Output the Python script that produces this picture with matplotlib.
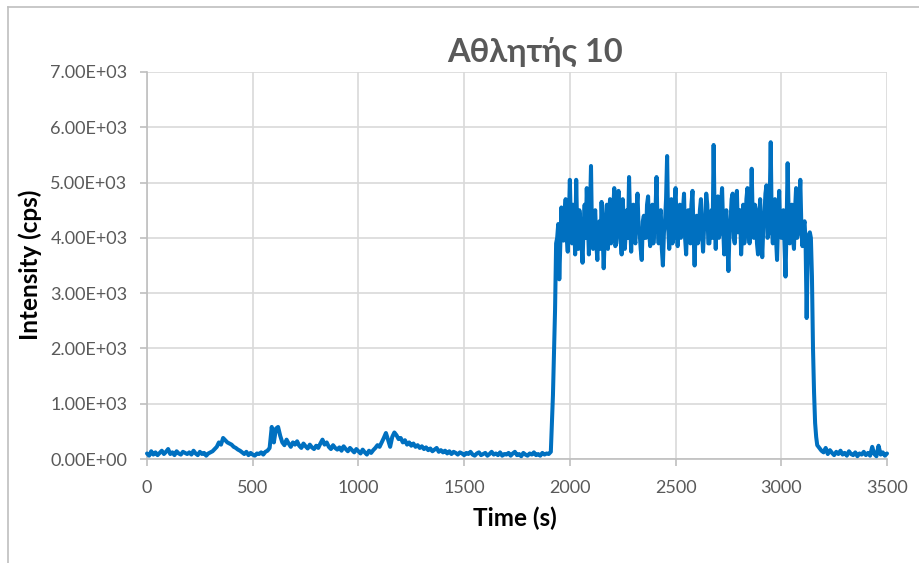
import numpy as np
import matplotlib
matplotlib.use("Agg")
import matplotlib.pyplot as plt
from matplotlib.lines import Line2D
from matplotlib.ticker import FuncFormatter, MultipleLocator

plt.rcParams['font.family'] = ['Lato', 'DejaVu Sans']

# Sampling times (s): every 10 s on the background, every 5 s across the signal plateau
time_s = np.concatenate([
    np.arange(0, 1921, 10),
    np.arange(1930, 3166, 5),
    np.arange(3170, 3501, 10),
])

# Background before the signal, 0-1920 s (10 s steps)
intensity_pre = [
    100, 60, 140, 80, 120, 70, 110, 150, 90, 130,
    180, 90, 120, 70, 140, 100, 80, 130, 110, 90,
    120, 80, 150, 100, 70, 130, 90, 110, 60, 100,
    120, 140, 180, 220, 300, 260, 380, 340, 300, 280,
    260, 220, 200, 170, 150, 120, 90, 130, 70, 110,
    80, 60, 100, 90, 120, 80, 130, 150, 200, 580,
    300, 550, 580, 420, 300, 250, 350, 280, 220, 300,
    260, 320, 240, 200, 280, 230, 190, 260, 210, 180,
    240, 200, 280, 350, 260, 300, 220, 180, 250, 200,
    170, 210, 150, 230, 180, 140, 200, 160, 120, 180,
    140, 100, 170, 120, 80, 150, 110, 160, 200, 250,
    220, 300, 380, 470, 350, 220, 400, 480, 430, 360,
    380, 300, 340, 260, 300, 240, 280, 220, 250, 200,
    230, 180, 210, 160, 190, 140, 170, 200, 130, 160,
    120, 150, 100, 140, 90, 130, 110, 80, 120, 100,
    70, 110, 90, 130, 80, 60, 100, 120, 70, 90,
    110, 60, 90, 130, 80, 100, 70, 120, 60, 90,
    80, 110, 60, 100, 130, 70, 90, 50, 110, 80,
    60, 100, 80, 120, 70, 90, 60, 110, 80, 100,
    90, 130, 1150,
]

# Signal plateau, 1930-3165 s (5 s steps)
intensity_plateau = [
    2700, 3900, 4000, 4250, 3250, 3900, 4550, 4100, 3950, 4400, 4700, 4000, 3750, 4300,
    5050, 4200, 3900, 4600, 4400, 3700, 5050, 4100, 3800, 4500, 4300, 3900, 3550, 4200, 4600, 4000, 4900, 4300, 3700, 4450,
    5300, 4000, 3800, 4400, 4500, 3900, 3600, 4200, 4300, 3800, 4650, 4100, 3450, 4000, 4400, 4600, 3800, 4300, 4700, 3900,
    4100, 4500, 4900, 3850, 3900, 4400, 4850, 4200, 4000, 3700, 4700, 4300, 3800, 4150, 4500, 4000, 5100, 4300, 3750, 4400,
    4600, 4000, 3900, 4500, 4800, 4200, 4100, 3800, 3600, 4300, 4400, 4000, 4000, 4600, 4750, 4100, 3850, 4300, 4600, 3900,
    4200, 4500, 5100, 4200, 3900, 4400, 4500, 3800, 3500, 4100, 4300, 4700, 5480, 4200, 3800, 4300, 4700, 3900, 4000, 4600,
    4900, 4200, 3850, 4400, 4600, 4000, 4100, 4500, 4800, 4000, 3700, 4300, 4500, 3950, 3900, 4600, 4850, 4100, 3500, 4200,
    4400, 3900, 4000, 4500, 4700, 4100, 3750, 4200, 4300, 4800, 4600, 3900, 3900, 4300, 4500, 4000, 5680, 4300, 3800, 4400,
    4750, 4000, 4100, 4600, 4900, 4200, 3700, 4300, 4500, 3900, 3400, 4100, 4300, 4700, 4800, 4000, 3900, 4400, 4850, 4100,
    4200, 4500, 3700, 4100, 4600, 3900, 4100, 4700, 4900, 4200, 3900, 4400, 5250, 4300, 4000, 4600, 4500, 3900, 3700, 4300,
    4700, 4100, 3650, 4200, 4400, 4800, 4950, 4000, 4100, 4600, 5730, 4200, 3900, 4400, 4700, 4000, 3600, 4300, 4850, 4100,
    4000, 4400, 4500, 3900, 3300, 4200, 5350, 4400, 3900, 4300, 4600, 4000, 3800, 4500, 4900, 4000, 4100, 4600, 5050, 4200,
    3850, 4200, 4300, 3900, 2550, 3700, 4050, 4100, 4000, 3300, 2000, 1200, 650, 400,
]

# Background after the signal, 3170-3500 s (10 s steps)
intensity_post = [
    250, 200, 150,
    120, 200, 90, 160, 110, 70, 130, 90, 150, 80,
    110, 60, 140, 90, 70, 120, 50, 100, 80, 130,
    70, 110, 60, 220, 90, 50, 240, 80, 120, 60,
    100,
]

intensity_cps = intensity_pre + intensity_plateau + intensity_post

title_text = "Αθλητής 10"
x_label = "Time (s)"
y_label = "Intensity (cps)"

W, H = 919, 563
fig = plt.figure(figsize=(W / 100, H / 100), dpi=100)
fig.patch.set_facecolor("white")

# chart-area frame (top and left edges)
frame_col = "#BFBFBF"
fig.add_artist(Line2D([8 / W, 1.0], [1 - 7 / H, 1 - 7 / H], color=frame_col, lw=1.2,
                      transform=fig.transFigure))
fig.add_artist(Line2D([8 / W, 8 / W], [1 - 7 / H, 0.0], color=frame_col, lw=1.2,
                      transform=fig.transFigure))

ax = fig.add_axes([147 / W, 1 - 459 / H, (887 - 147) / W, (459 - 72) / H])
ax.plot(time_s, intensity_cps, color="#0070C0", lw=2.9, solid_joinstyle="round",
        solid_capstyle="round", zorder=3, clip_on=False)

ax.set_xlim(0, 3500)
ax.set_ylim(0, 7000)
ax.xaxis.set_major_locator(MultipleLocator(500))
ax.yaxis.set_major_locator(MultipleLocator(1000))
ax.yaxis.set_major_formatter(FuncFormatter(lambda v, p: f"{v:.2E}"))

grid_col = "#D9D9D9"
ax.grid(True, color=grid_col, lw=1.2, zorder=0)
ax.set_axisbelow(True)
for side in ("top", "right"):
    ax.spines[side].set_visible(False)
for side in ("left", "bottom"):
    ax.spines[side].set_color("#BFBFBF")
    ax.spines[side].set_linewidth(1.2)
ax.tick_params(axis="both", direction="out", length=5, width=1.2, color="#BFBFBF",
               labelcolor="#595959", labelsize=13)
ax.tick_params(axis="x", pad=10)
ax.tick_params(axis="y", pad=9)

fig.text(535 / W, 1 - 52 / H, title_text, ha="center", va="center",
         fontsize=23.5, fontweight="bold", color="#595959")
fig.text(515 / W, 1 - 518 / H, x_label, ha="center", va="center",
         fontsize=17.5, fontweight="bold", color="black")
fig.text(30 / W, 1 - 265 / H, y_label, ha="center", va="center", rotation=90,
         fontsize=17.5, fontweight="bold", color="black")

fig.savefig("out.png", dpi=100, facecolor="white")
